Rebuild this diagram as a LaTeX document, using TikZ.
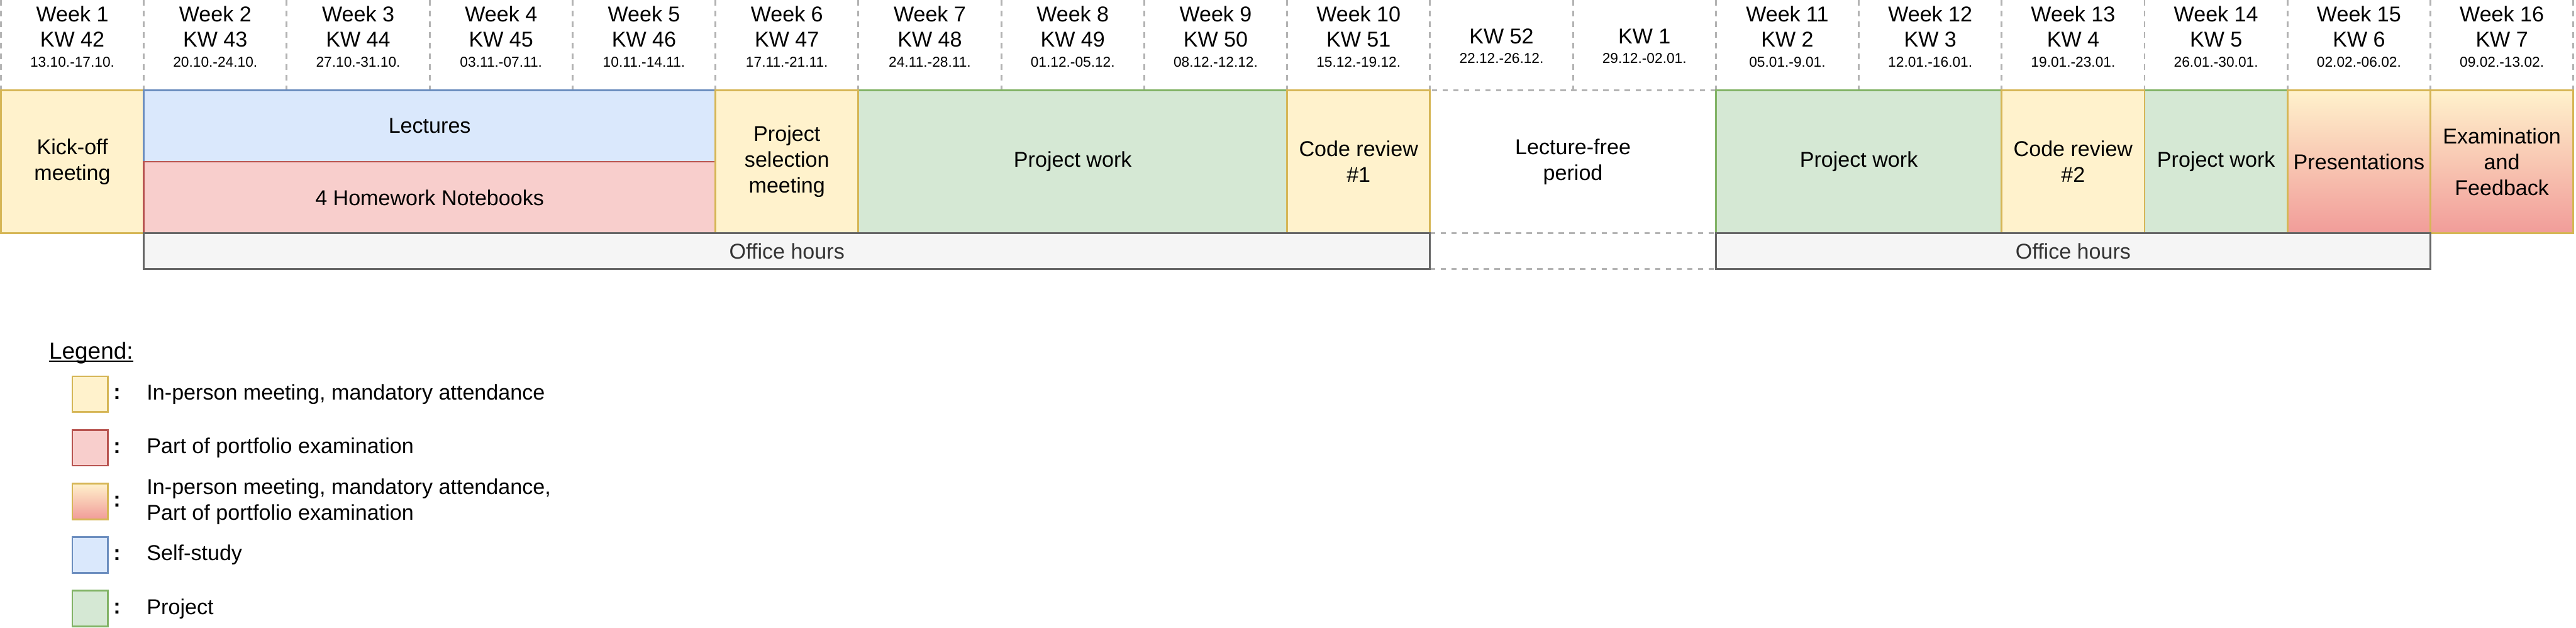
\documentclass[tikz,border=0pt]{standalone}
\usepackage{fontspec}
\setmainfont{Liberation Sans}
\definecolor{yelFill}{HTML}{FFF2CC}
\definecolor{yelEdge}{HTML}{D6B656}
\definecolor{redFill}{HTML}{F8CECC}
\definecolor{redEdge}{HTML}{B85450}
\definecolor{bluFill}{HTML}{DAE8FC}
\definecolor{bluEdge}{HTML}{6C8EBF}
\definecolor{grnFill}{HTML}{D5E8D4}
\definecolor{grnEdge}{HTML}{82B366}
\definecolor{gradBot}{HTML}{F19C99}
\definecolor{ohFill}{HTML}{F5F5F5}
\definecolor{ohEdge}{HTML}{666666}
\definecolor{ohText}{HTML}{333333}
\definecolor{dashCol}{HTML}{B3B3B3}
\newcommand{\colw}{80}
\newcommand{\fsz}[1]{\fontsize{#1}{14.4}\selectfont}
\tikzset{
  blk/.style={draw, line width=1pt, inner sep=0pt, align=center, font=\fsz{12}},
  yelblk/.style={blk, fill=yelFill, draw=yelEdge},   % in-person, mandatory
  redblk/.style={blk, fill=redFill, draw=redEdge},   % portfolio part
  blublk/.style={blk, fill=bluFill, draw=bluEdge},   % self-study
  grnblk/.style={blk, fill=grnFill, draw=grnEdge},   % project
  gradblk/.style={blk, draw=yelEdge, top color=yelFill, bottom color=gradBot},
  freeblk/.style={blk, fill=white, draw=dashCol, dash pattern=on 3pt off 3pt},
  ohbar/.style={blk, fill=ohFill, draw=ohEdge, text=ohText},
  hdrline/.style={dashCol, line width=1pt, dash pattern=on 3pt off 3pt},
  wktxt/.style={anchor=base, inner sep=0pt, font=\fsz{12}},
  dttxt/.style={anchor=base, inner sep=0pt, font=\fsz{8}},
  legbox/.style={minimum width=20pt, minimum height=20pt},
  legcol/.style={inner sep=0pt, font=\fsz{12}\bfseries},
  legtxt/.style={anchor=west, inner sep=0pt, align=left, font=\fsz{12}},
}
% name, style, first column, columns, top, height, label
\newcommand{\slot}[7]{%
  \node[#2, minimum width={#4*\colw*1pt}, minimum height={#6*1pt}]
    (#1) at ({(#3+#4/2)*\colw+0.5},{#5+#6/2}) {#7};}

\begin{document}
\begin{tikzpicture}[x=1pt, y=-1pt]
  \path[use as bounding box, fill=white] (0,0) rectangle (1442,351);

  % week header
  \foreach \c in {0,...,18}{\draw[hdrline] ({\c*\colw+0.5},0) -- ({\c*\colw+0.5},50.5);}
  \foreach \c/\wk/\kw/\dt in {0/1/42/13.10.-17.10., 1/2/43/20.10.-24.10., 2/3/44/27.10.-31.10.,
      3/4/45/03.11.-07.11., 4/5/46/10.11.-14.11., 5/6/47/17.11.-21.11., 6/7/48/24.11.-28.11.,
      7/8/49/01.12.-05.12., 8/9/50/08.12.-12.12., 9/10/51/15.12.-19.12., 12/11/2/05.01.-9.01.,
      13/12/3/12.01.-16.01., 14/13/4/19.01.-23.01., 15/14/5/26.01.-30.01.,
      16/15/6/02.02.-06.02., 17/16/7/09.02.-13.02.}{
    \node[wktxt] (wk\c) at ({\c*\colw+40.5},12) {Week \wk};
    \node[wktxt] (kw\c) at ({\c*\colw+40.5},26.2) {KW \kw};
    \node[dttxt] (dt\c) at ({\c*\colw+40.5},37.5) {\dt};
  }
  \foreach \c/\kw/\dt in {10/52/22.12.-26.12., 11/1/29.12.-02.01.}{
    \node[wktxt] (kw\c) at ({\c*\colw+40.5},24.3) {KW \kw};
    \node[dttxt] (dt\c) at ({\c*\colw+40.5},35.5) {\dt};
  }

  % schedule
  \slot{kick}{yelblk}{0}{1}{50.5}{80}{Kick-off\\meeting}
  \slot{free}{freeblk}{10}{2}{50.5}{80}{Lecture-free\\period}
  \draw[hdrline] (800.5,150.5) -- (960.5,150.5);
  \slot{pw1}{grnblk}{6}{3}{50.5}{80}{Project work}
  \slot{pw2}{grnblk}{12}{2}{50.5}{80}{Project work}
  \slot{pw3}{grnblk}{15}{1}{50.5}{80}{Project work}
  \slot{lect}{blublk}{1}{4}{50.5}{40}{Lectures}
  \slot{hw}{redblk}{1}{4}{90.5}{40}{4 Homework Notebooks}
  \slot{sel}{yelblk}{5}{1}{50.5}{80}{Project\\selection\\meeting}
  \slot{cr1}{yelblk}{9}{1}{50.5}{80}{Code review\\\#1}
  \slot{cr2}{yelblk}{14}{1}{50.5}{80}{Code review\\\#2}
  \slot{pres}{gradblk}{16}{1}{50.5}{80}{Presentations}
  \slot{exam}{gradblk}{17}{1}{50.5}{80}{Examination\\and\\Feedback}
  \slot{oh1}{ohbar}{1}{9}{130.5}{20}{Office hours}
  \slot{oh2}{ohbar}{12}{5}{130.5}{20}{Office hours}

  % legend
  \node[anchor=base, inner sep=0pt, font=\fsz{13}] (legend) at (51,200.7) {Legend:};
  \draw[line width=0.8pt] ([yshift=-1.4pt]legend.base west) -- ([yshift=-1.4pt]legend.base east);
  \foreach \sty/\txt [count=\k from 0] in {yelblk/{In-person meeting, mandatory attendance},
      redblk/{Part of portfolio examination},
      gradblk/{In-person meeting, mandatory attendance,\\Part of portfolio examination},
      blublk/{Self-study}, grnblk/{Project}}{
    \node[\sty, legbox] (lb\k) at (50.5,{220.5+30*\k}) {};
    \node[legcol] (lc\k) at (65.5,{220.5+30*\k}) {:};
    \node[legtxt] (lt\k) at (82,{220.5+30*\k}) {\txt};
  }
\end{tikzpicture}
\end{document}
